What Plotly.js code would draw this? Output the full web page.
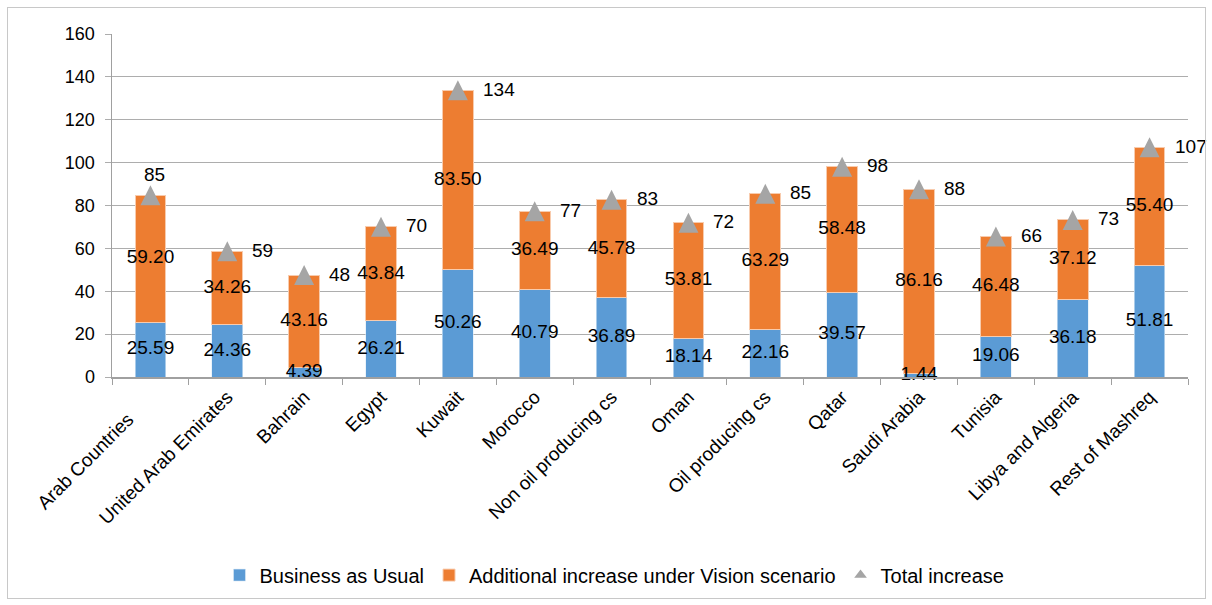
<!DOCTYPE html>
<html>
<head>
<meta charset="utf-8">
<script src="https://cdn.plot.ly/plotly-3.0.1.min.js"></script>
<style>
  html, body { margin: 0; padding: 0; background: #fff; }
  #chart { width: 1212px; height: 605px; }
  #frame { position: absolute; left: 7px; top: 7px; width: 1197px; height: 590px; border: 1px solid #C8C8C8; pointer-events: none; }
</style>
</head>
<body>
<div id="chart"></div>
<div id="frame"></div>
<script>
const categories = ["Arab Countries\u00a0\u00a0\u00a0\u00a0\u00a0\u00a0", "United Arab Emirates", "Bahrain", "Egypt", "Kuwait", "Morocco",
  "Non oil producing cs", "Oman", "Oil producing cs", "Qatar", "Saudi Arabia", "Tunisia",
  "Libya and Algeria", "Rest of Mashreq"];
const businessAsUsual = [25.59, 24.36, 4.39, 26.21, 50.26, 40.79, 36.89, 18.14, 22.16, 39.57, 1.44, 19.06, 36.18, 51.81];
const additionalVision = [59.20, 34.26, 43.16, 43.84, 83.50, 36.49, 45.78, 53.81, 63.29, 58.48, 86.16, 46.48, 37.12, 55.40];
const totalIncrease = [85, 59, 48, 70, 134, 77, 83, 72, 85, 98, 88, 66, 73, 107];

const FONT = "Liberation Sans, Arial, sans-serif";
const BLUE = "#5B9BD5", ORANGE = "#ED7D31", GRAY = "#A5A5A5";

const sums = businessAsUsual.map((b, i) => b + additionalVision[i]);
const blueMid = businessAsUsual.map(b => b / 2);
const orangeMid = businessAsUsual.map((b, i) => b + additionalVision[i] / 2);

// plot height 344px for 160 units -> shift the marker axis so the triangle is centred on the value
const PX_PER_UNIT = 344 / 160;
const markerShift = 10 / PX_PER_UNIT;

const traces = [
  { type: "bar", name: "Business as Usual", x: categories, y: businessAsUsual,
    marker: { color: BLUE, line: { color: "#DDEBF7", width: 0.6 } }, hoverinfo: "none" },
  { type: "bar", name: "Additional increase under Vision scenario", x: categories, y: additionalVision,
    marker: { color: ORANGE, line: { color: "#F8CBAD", width: 1 } }, hoverinfo: "none" },
  { type: "scatter", mode: "markers", showlegend: false, x: categories, y: sums, yaxis: "y2",
    marker: { symbol: "arrow-up", size: 20, color: GRAY }, hoverinfo: "none" },
  { type: "scatter", mode: "markers", name: "Total increase", x: [null], y: [null],
    marker: { symbol: "triangle-up", size: 11, color: GRAY }, hoverinfo: "none" },
  { type: "scatter", mode: "text", showlegend: false, x: categories, y: blueMid,
    text: businessAsUsual.map(v => v.toFixed(2)), textposition: "middle center",
    textfont: { family: FONT, size: 19, color: "#000" }, cliponaxis: false, hoverinfo: "none" },
  { type: "scatter", mode: "text", showlegend: false, x: categories, y: orangeMid,
    text: additionalVision.map(v => v.toFixed(2)), textposition: "middle center",
    textfont: { family: FONT, size: 19, color: "#000" }, cliponaxis: false, hoverinfo: "none" }
];

const annotations = categories.map((c, i) => {
  const first = i === 0;
  return {
    x: c, y: sums[i], xref: "x", yref: "y", showarrow: false,
    text: String(totalIncrease[i]),
    xanchor: first ? "center" : "left", yanchor: first ? "bottom" : "middle",
    xshift: first ? 4 : 23, yshift: first ? 8 : 1,
    font: { family: FONT, size: 19, color: "#000" }
  };
});

const layout = {
  width: 1212, height: 605,
  margin: { l: 112, r: 24, t: 34, b: 227 },
  paper_bgcolor: "#fff", plot_bgcolor: "#fff",
  barmode: "stack", bargap: 0.6,
  showlegend: true,
  legend: { orientation: "h", x: 0.467, xanchor: "center", y: -0.573, yanchor: "middle",
    font: { family: FONT, size: 20, color: "#000" }, itemwidth: 30, traceorder: "normal" },
  xaxis: { type: "category", range: [-0.5, 13.5], tickangle: -45, showgrid: false, showline: true,
    linecolor: "#A0A0A0", linewidth: 1.5,
    ticks: "outside", tickson: "boundaries", ticklen: 6, tickcolor: "#A0A0A0",
    tickfont: { family: FONT, size: 19, color: "#000" }, fixedrange: true },
  yaxis: { range: [0, 160], dtick: 20, showgrid: true, gridcolor: "#ADADAD", gridwidth: 1,
    showline: true, linecolor: "#A0A0A0", linewidth: 1.5, ticks: "outside", ticklen: 6, tickcolor: "#ADADAD",
    ticklabelstandoff: 6,
    tickfont: { family: FONT, size: 18, color: "#000" }, zeroline: false, fixedrange: true },
  yaxis2: { overlaying: "y", range: [-markerShift, 160 - markerShift], visible: false, fixedrange: true },
  annotations: annotations,
  hovermode: false
};

Plotly.newPlot("chart", traces, layout, { displayModeBar: false, staticPlot: true });
</script>
</body>
</html>
